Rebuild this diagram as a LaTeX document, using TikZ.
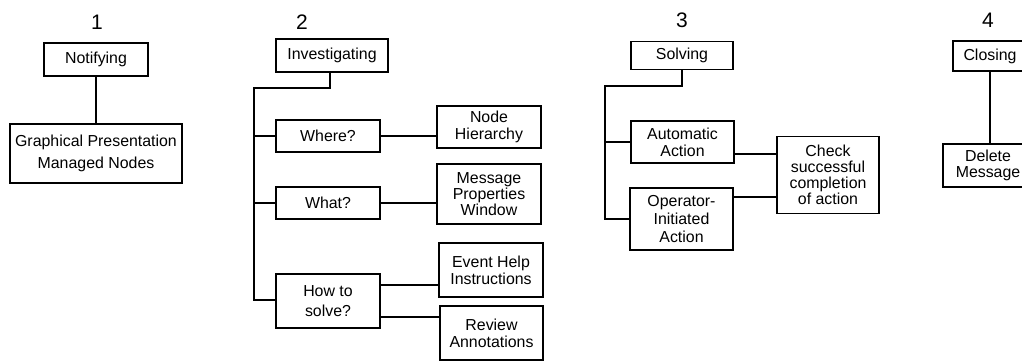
\documentclass[tikz,border=0pt]{standalone}
\usepackage{fontspec}
\setmainfont{Liberation Sans}
\usetikzlibrary{calc}
\tikzset{
  box/.style={draw=black, line width=1.2pt, fill=white, rectangle, inner sep=0pt, align=center,
    font=\fontsize{15.9}{16.7}\selectfont},
  conn/.style={draw=black, line width=1.2pt},
  num/.style={inner sep=0pt, font=\fontsize{21}{21}\selectfont}
}
\begin{document}
\begin{tikzpicture}[x=1pt,y=-1pt]
\useasboundingbox (0,0) rectangle (1022,360);
\clip (0,0) rectangle (1022,360);
% ---------- 1 ----------
\node[num] (n1) at (97,22) {1};
\node[box, minimum width=104pt, minimum height=33pt] (notif) at (96,59.5) {Notifying};
\node[box, minimum width=172pt, minimum height=59pt,
      font=\fontsize{15.9}{21.5}\selectfont] (graph) at (96,153.5) {Graphical Presentation\\Managed Nodes};
\draw[conn] (notif.south) -- (graph.north);
% ---------- 2 ----------
\node[num] (n2) at (302,22) {2};
\node[box, minimum width=112pt, minimum height=33pt] (inv) at (332,55.5) {Investigating};
\node[box, minimum width=104pt, minimum height=32pt] (where) at (328,136) {Where?};
\node[box, minimum width=104pt, minimum height=42pt] (nh) at (489,127) {Node\\Hierarchy};
\node[box, minimum width=104pt, minimum height=32pt] (what) at (328,203) {What?};
\node[box, minimum width=104pt, minimum height=60pt,
      font=\fontsize{15.9}{15.8}\selectfont] (mpw) at (489,194) {Message\\Properties\\Window};
\node[box, minimum width=104pt, minimum height=54pt,
      font=\fontsize{15.9}{20}\selectfont] (how) at (328,301) {How to\\solve?};
\node[box, minimum width=104pt, minimum height=54pt] (ehi) at (491,270) {Event Help\\Instructions};
\node[box, minimum width=103pt, minimum height=54pt] (ra) at (491.5,333) {Review\\Annotations};
\coordinate (t2a) at (330,88);
\coordinate (t2b) at (254,88);
\coordinate (t2c) at (254,300);
\draw[conn] (inv.south -| t2a) -- (t2a) -- (t2b) -- (t2c) -- (t2c -| how.west);
\draw[conn] (where.west -| t2b) -- (where.west);
\draw[conn] (what.west -| t2b) -- (what.west);
\draw[conn] (where.east) -- (where.east -| nh.west);
\draw[conn] (what.east) -- (what.east -| mpw.west);
\draw[conn] ([yshift=16pt]how.east) -- ([yshift=16pt]how.east -| ehi.west);
\draw[conn] ([yshift=-16pt]how.east) -- ([yshift=-16pt]how.east -| ra.west);
% ---------- 3 ----------
\node[num] (n3) at (682,20) {3};
\node[box, minimum width=102pt, minimum height=28pt] (solv) at (682,55.5) {Solving};
\node[box, minimum width=103pt, minimum height=42pt] (auto) at (682.5,142) {Automatic\\Action};
\node[box, minimum width=103pt, minimum height=62pt,
      font=\fontsize{15.9}{18.3}\selectfont] (op) at (681.5,219) {Operator-\\Initiated\\Action};
\node[box, minimum width=102pt, minimum height=77pt,
      font=\fontsize{15.9}{15.8}\selectfont] (check) at (828,175) {Check\\successful\\completion\\of action};
\coordinate (t3a) at (682,86);
\coordinate (t3b) at (605,86);
\coordinate (t3c) at (605,219);
\draw[conn] (solv.south) -- (t3a) -- (t3b) -- (t3c) -- (op.west);
\draw[conn] (auto.west -| t3b) -- (auto.west);
\draw[conn] ([yshift=-12pt]auto.east) -- ([yshift=-12pt]auto.east -| check.west);
\draw[conn] ([yshift=22pt]op.east) -- ([yshift=22pt]op.east -| check.west);
% ---------- 4 ----------
\node[num] (n4) at (988,20) {4};
\node[box, minimum width=74pt, minimum height=30pt] (clos) at (990,56) {Closing};
\node[box, minimum width=90pt, minimum height=43pt] (del) at (988,165.5) {Delete\\Message};
\draw[conn] (clos.south) -- (clos.south |- del.north);
\end{tikzpicture}
\end{document}
